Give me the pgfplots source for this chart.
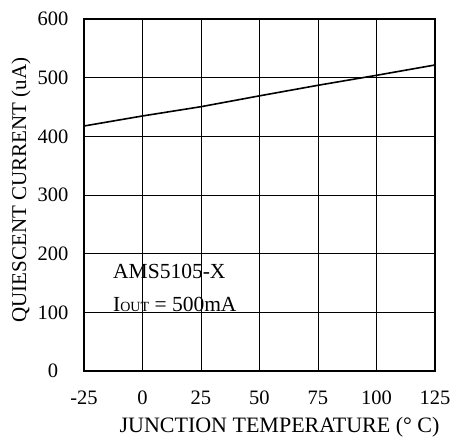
\documentclass[border=0pt]{standalone}
\usepackage{fontspec}
\setmainfont{Liberation Serif}
\usepackage{pgfplots}
\pgfplotsset{compat=1.18}

\begin{document}
\begin{tikzpicture}
\begin{axis}[
  name=ax,
  scale only axis,
  width=351pt, height=352pt,
  xmin=-25, xmax=125, ymin=0, ymax=600,
  xtick={-25,0,25,50,75,100,125},
  ytick={0,100,200,300,400,500,600},
  grid=major,
  major grid style={black, line width=0.9pt},
  axis line style={line width=1.8pt},
  major tick length=0pt,
  /pgf/number format/assume math mode=true,
  ticklabel style={font=\fontsize{20.5}{24}\selectfont},
  xticklabel style={anchor=center, yshift=-27pt},
  yticklabel style={anchor=center, xshift=-31pt},
  xlabel={JUNCTION TEMPERATURE (° C)},
  ylabel={QUIESCENT CURRENT (uA)},
  xlabel style={font=\fontsize{22}{26}\selectfont, at={(rel axis cs:0.5,0)}, anchor=base, yshift=-62pt, xshift=20pt},
  ylabel style={font=\fontsize{21}{25}\selectfont, at={([xshift=-63pt,yshift=5pt]rel axis cs:0,0.5)}, anchor=center},
]
\addplot[black, line width=1.6pt] coordinates {
  (-25,417.6) (0,434.7) (25,450.5) (50,469) (75,487) (100,504) (125,521.6)
};
\node[anchor=base west, font=\fontsize{21.5}{25}\selectfont, inner sep=0pt]
  at (axis cs:-12.6,158.5) {AMS5105-X};
\node[anchor=base west, font=\fontsize{21.5}{25}\selectfont, inner sep=0pt]
  at (axis cs:-12.6,100.6) {I{\fontsize{14}{14}\selectfont OUT} = 500mA};
\end{axis}
\pgfresetboundingbox
\path ([shift={(-84pt,-68pt)}]ax.south west) rectangle ([shift={(21pt,19pt)}]ax.north east);
\end{tikzpicture}
\end{document}
